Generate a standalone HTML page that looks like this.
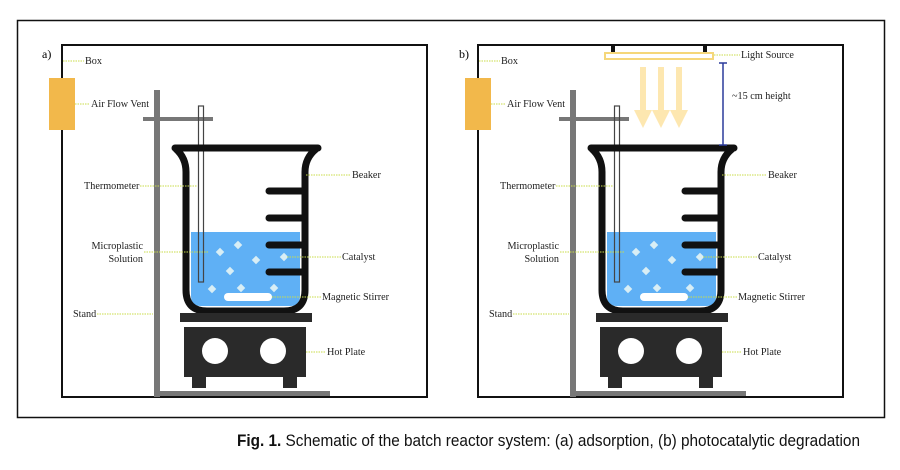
<!DOCTYPE html>
<html><head><meta charset="utf-8"><style>
html,body{margin:0;padding:0;background:#fff;width:900px;height:470px;overflow:hidden}
svg{display:block}
.l{font-family:"Liberation Serif",serif;font-size:10.2px;fill:#222}
.d{stroke:#c9dc4a;stroke-width:1;stroke-dasharray:1.5 1}
.cap{font-family:"Liberation Sans",sans-serif;font-size:17px;fill:#111}
</style></head><body>
<svg width="900" height="470" viewBox="0 0 900 470">
<rect x="17.5" y="20.5" width="867" height="397" fill="none" stroke="#111" stroke-width="1.5"/>
<defs>
<g id="p">
<rect x="62" y="45" width="365" height="352" fill="none" stroke="#111" stroke-width="2"/>
<rect x="49" y="78" width="26" height="52" fill="#f2b84b"/>
<line x1="63" y1="61" x2="84" y2="61" class="d"/>
<text x="85" y="64" class="l">Box</text>
<line x1="75" y1="104" x2="90" y2="104" class="d"/>
<text x="91" y="107" class="l">Air Flow Vent</text>
<rect x="154" y="90" width="6" height="307" fill="#777"/>
<rect x="154" y="391" width="176" height="5" fill="#777"/>
<rect x="143" y="117" width="70" height="4" fill="#777"/>
<path d="M191,232 L300,232 L300,296 Q300,306 290,306 L201,306 Q191,306 191,296 Z" fill="#5fb0f5"/>
<rect x="198.5" y="106" width="5" height="176" fill="none" stroke="#444" stroke-width="1.2"/>
<path d="M175,148 L318,148 M176,149 Q186,158 186,172 L186,290 Q186,311 207,311 L284,311 Q305,311 305,290 L305,172 Q305,158 316,149" fill="none" stroke="#111" stroke-width="7" stroke-linecap="round" stroke-linejoin="round"/>
<g stroke="#111" stroke-width="7" stroke-linecap="round">
<line x1="269" y1="191" x2="303" y2="191"/><line x1="269" y1="218" x2="303" y2="218"/>
<line x1="269" y1="245" x2="303" y2="245"/><line x1="269" y1="272" x2="303" y2="272"/>
</g>
<g fill="#d8eef5">
<rect x="217" y="249" width="6" height="6" transform="rotate(45 220 252)"/>
<rect x="235" y="242" width="6" height="6" transform="rotate(45 238 245)"/>
<rect x="253" y="257" width="6" height="6" transform="rotate(45 256 260)"/>
<rect x="281" y="254" width="6" height="6" transform="rotate(45 284 257)"/>
<rect x="227" y="268" width="6" height="6" transform="rotate(45 230 271)"/>
<rect x="209" y="286" width="6" height="6" transform="rotate(45 212 289)"/>
<rect x="238" y="285" width="6" height="6" transform="rotate(45 241 288)"/>
<rect x="271" y="285" width="6" height="6" transform="rotate(45 274 288)"/>
</g>
<rect x="224" y="293" width="48" height="8" rx="4" fill="#fff"/>
<rect x="180" y="313" width="132" height="9" fill="#2a2a2a"/>
<rect x="184" y="327" width="122" height="50" fill="#2a2a2a"/>
<rect x="192" y="376" width="14" height="12" fill="#2a2a2a"/>
<rect x="283" y="376" width="14" height="12" fill="#2a2a2a"/>
<circle cx="215" cy="351" r="13" fill="#fff"/><circle cx="273" cy="351" r="13" fill="#fff"/>
<text x="84" y="189" class="l">Thermometer</text>
<line x1="140" y1="186" x2="197" y2="186" class="d"/>
<text x="143" y="249" class="l" text-anchor="end">Microplastic</text>
<text x="143" y="262" class="l" text-anchor="end">Solution</text>
<line x1="144" y1="252" x2="208" y2="252" class="d"/>
<text x="73" y="317" class="l">Stand</text>
<line x1="97" y1="314" x2="153" y2="314" class="d"/>
<line x1="306" y1="175" x2="351" y2="175" class="d"/>
<text x="352" y="178" class="l">Beaker</text>
<line x1="287" y1="257" x2="341" y2="257" class="d"/>
<text x="342" y="260" class="l">Catalyst</text>
<line x1="272" y1="297" x2="321" y2="297" class="d"/>
<text x="322" y="300" class="l">Magnetic Stirrer</text>
<line x1="306" y1="352" x2="326" y2="352" class="d"/>
<text x="327" y="355" class="l">Hot Plate</text>
</g>
</defs>
<use href="#p"/>
<text x="42" y="58" style="font-family:'Liberation Serif',serif;font-size:12px">a)</text>
<g transform="translate(416,0)"><use href="#p"/></g>
<text x="459" y="58" style="font-family:'Liberation Serif',serif;font-size:12px">b)</text>
<rect x="611" y="45" width="4" height="7" fill="#111"/><rect x="703" y="45" width="4" height="7" fill="#111"/>
<rect x="605" y="53" width="108" height="6" fill="none" stroke="#f5d77a" stroke-width="2"/>
<line x1="714" y1="55" x2="740" y2="55" class="d"/>
<text x="741" y="58" class="l">Light Source</text>
<g fill="#fde7b0">
<rect x="640" y="67" width="6" height="46"/><polygon points="634,110 652,110 643,128"/>
<rect x="658" y="67" width="6" height="46"/><polygon points="652,110 670,110 661,128"/>
<rect x="676" y="67" width="6" height="46"/><polygon points="670,110 688,110 679,128"/>
</g>
<g stroke="#2b3a9a" stroke-width="1.5">
<line x1="723" y1="63" x2="723" y2="145"/><line x1="719" y1="63" x2="727" y2="63"/><line x1="719" y1="145" x2="727" y2="145"/>
</g>
<text x="732" y="99" class="l">~15 cm height</text>
<text x="237" y="446" class="cap" textLength="623" lengthAdjust="spacingAndGlyphs"><tspan font-weight="bold">Fig. 1.</tspan> Schematic of the batch reactor system: (a) adsorption, (b) photocatalytic degradation</text>
</svg>
</body></html>
